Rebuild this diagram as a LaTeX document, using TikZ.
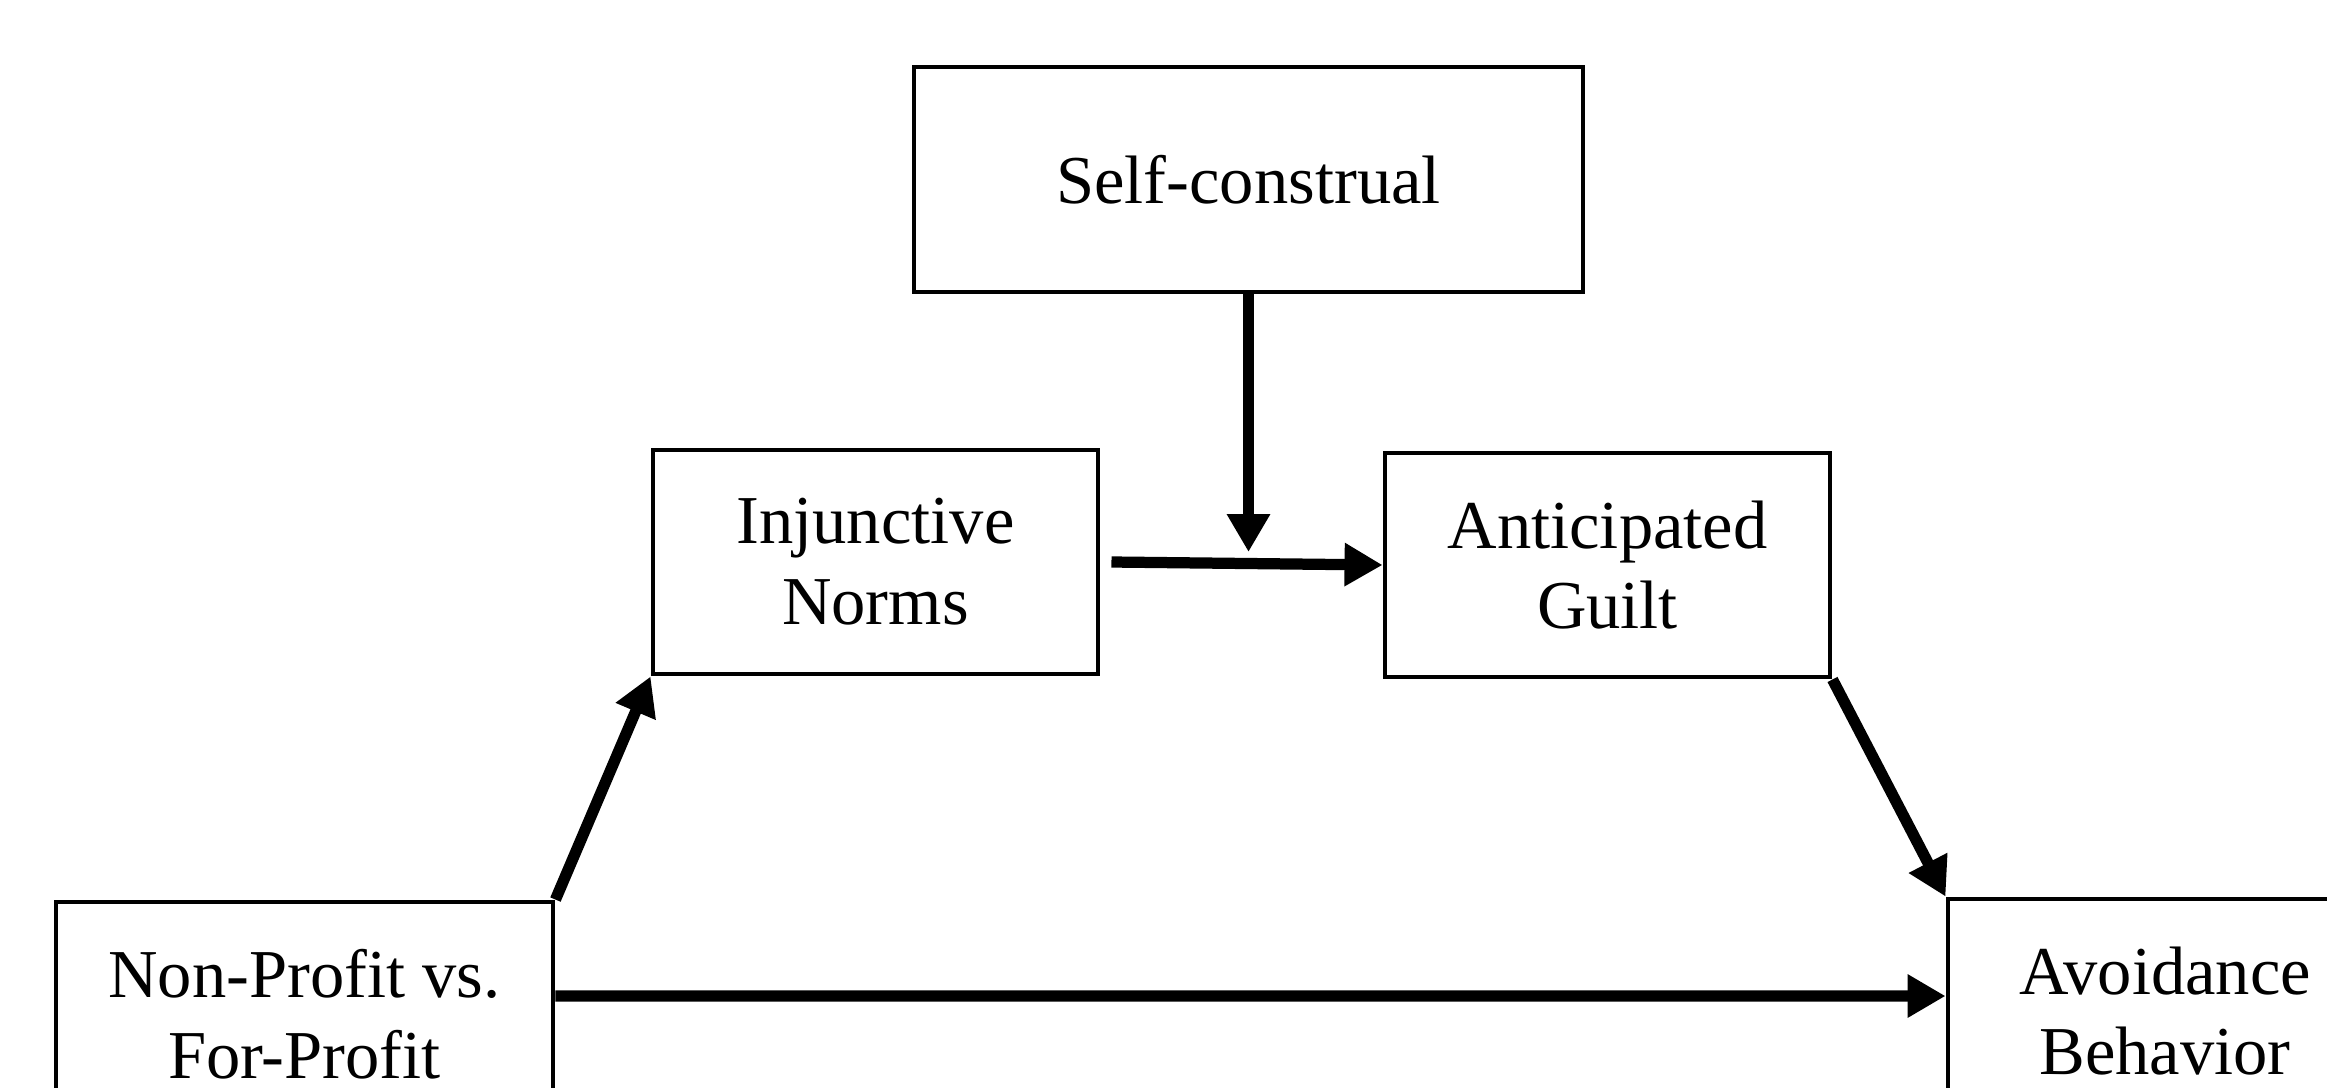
\documentclass[tikz,border=0pt]{standalone}
\usepackage{fontspec}
\setmainfont{Liberation Serif}
\usetikzlibrary{arrows.meta}
\begin{document}
\begin{tikzpicture}[>={Triangle[length=3.8mm,width=4.1mm]},
  box/.style={rectangle,draw=black,fill=white,line width=1.4pt,align=center,
    minimum height=2.24cm,font=\fontsize{19.5}{23}\selectfont},
  link/.style={->,line width=3.2pt}]
\useasboundingbox (0,-0.0) rectangle (23.27,10.87);
\clip (0,0) rectangle (23.27,10.87);
\node (k1) at (12.485,9.075)[box,minimum width=6.69cm,minimum height=2.25cm]{Self-construal};
\node (k2) at (8.755,5.25)[box,minimum width=4.45cm]{Injunctive\\Norms};
\node (k3) at (16.075,5.22)[box,minimum width=4.45cm]{Anticipated\\Guilt};
\node (k4) at (3.045,0.73)[box,minimum width=4.97cm]{Non-Profit vs.\\For-Profit};
\node (k5) at (21.65,0.76)[box,minimum width=4.34cm]{Avoidance\\Behavior};
\coordinate (m) at (12.5,5.35);

\draw[link] (k4.north east)--(k2.south west);
\draw[link] ([xshift=1.1mm]k2.east)--(k3.west);
\draw[link] (k1.south)--(k1.south |- m);
\draw[link] (k3.south east)--(k5.north west);
\draw[link] ([yshift=1.8mm]k4.east)--([yshift=1.5mm]k5.west);
\end{tikzpicture}
\end{document}
